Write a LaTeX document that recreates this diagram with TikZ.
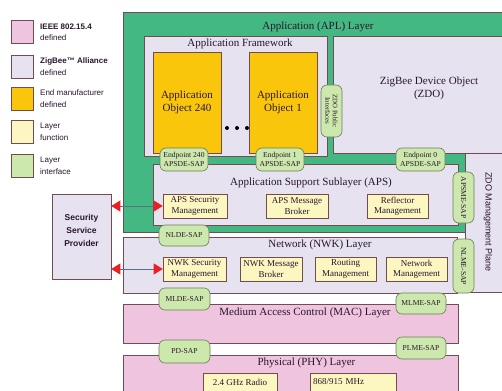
\documentclass[tikz,border=0pt]{standalone}
\usepackage{fontspec}
\setmainfont{Liberation Serif}
\newfontfamily\legendfont{Liberation Sans}
\usetikzlibrary{arrows.meta}

\definecolor{ieeepink}{RGB}{239,196,222}
\definecolor{zblav}{RGB}{230,226,240}
\definecolor{mfrorange}{RGB}{250,198,12}
\definecolor{funcyellow}{RGB}{252,247,192}
\definecolor{ifgreen}{RGB}{205,232,172}
\definecolor{aplgreen}{RGB}{68,184,130}
\definecolor{edge}{RGB}{115,75,80}
\definecolor{pilledge}{RGB}{105,125,90}
\definecolor{ink}{RGB}{40,22,45}
\definecolor{arrowred}{RGB}{235,30,35}
\definecolor{arrowline}{RGB}{90,110,140}

\begin{document}
\begin{tikzpicture}[x=1pt,y=-1pt,
  box/.style={draw=edge, line width=0.6pt, inner sep=0pt, align=center, text=ink},
  layerbox/.style={box, fill=#1},
  func/.style={box, fill=funcyellow, font=\fontsize{9}{10.3}\selectfont, minimum height=24pt},
  pill/.style={draw=pilledge, line width=0.6pt, fill=ifgreen, rounded corners=6pt, inner sep=0pt,
    align=center, text=ink, font=\fontsize{7.6}{8.6}\selectfont},
  ttl/.style={text=ink, font=\fontsize{11}{13}\selectfont, align=center, inner sep=0pt},
  swatch/.style={draw=edge, line width=0.6pt, minimum width=22pt, minimum height=23pt, inner sep=0pt},
  legtext/.style={anchor=west, align=left, inner sep=0pt, text=ink,
    font=\legendfont\fontsize{8}{11.5}\selectfont},
  biarrow/.style={draw=arrowline, line width=0.7pt,
    {Triangle[length=9pt,width=11pt,color=arrowred]}-{Triangle[length=9pt,width=11pt,color=arrowred]}}
]
\clip (0,0) rectangle (502,390);
\fill[white] (0,0) rectangle (502,390);

% legend
\node[swatch, fill=ieeepink]   (sw1) at (22,31.5) {};
\node[swatch, fill=zblav]      (sw2) at (22,66.5) {};
\node[swatch, fill=mfrorange]  (sw3) at (22,98.5) {};
\node[swatch, fill=funcyellow] (sw4) at (22,132) {};
\node[swatch, fill=ifgreen]    (sw5) at (22,166) {};
\node[legtext] (lg1) at (40,32) {\textbf{IEEE 802.15.4}\\defined};
\node[legtext] (lg2) at (40,66.5) {\textbf{ZigBee™ Alliance}\\defined};
\node[legtext] (lg3) at (40,98.5) {End manufacturer\\defined};
\node[legtext] (lg4) at (40,132) {Layer\\function};
\node[legtext] (lg5) at (40,166) {Layer\\interface};

% application layer
\node[layerbox=aplgreen, minimum width=389pt, minimum height=220pt] (apl) at (317.5,122) {};
\node[ttl] (apltitle) at (318,27) {Application (APL) Layer};

\node[layerbox=zblav, minimum width=183pt, minimum height=120pt] (frame) at (235.5,96) {};
\node[ttl] (frametitle) at (240,44) {Application Framework};
\node[layerbox=mfrorange, minimum width=68pt, minimum height=101pt,
      font=\fontsize{11}{13}\selectfont] (obj240) at (187,102.5) {Application\\Object 240};
\node[layerbox=mfrorange, minimum width=68pt, minimum height=101pt,
      font=\fontsize{11}{13}\selectfont] (obj1) at (283,102.5) {Application\\Object 1};
\foreach \dx in {227,237,247} \fill[black] (\dx,128) circle (2pt);

\node[layerbox=zblav, minimum width=179pt, minimum height=117pt] (zdo) at (422.5,94.5) {};
\node[ttl] (zdotext) at (429,88) {ZigBee Device Object\\(ZDO)};
\node[pill, rotate=-90, minimum width=52pt, minimum height=21pt,
      font=\fontsize{6.8}{7.4}\selectfont] (zdopub) at (331.5,111) {ZDO Public\\Interfaces};

\node[layerbox=zblav, minimum width=47pt, minimum height=139pt] (mgmt) at (488.5,222.5) {};
\node[rotate=-90, text=ink, inner sep=0pt, font=\legendfont\fontsize{9}{11}\selectfont]
      (mgmttext) at (488,222) {ZDO Management Plane};

% application support sublayer
\node[layerbox=zblav, minimum width=305pt, minimum height=61pt] (aps) at (305.5,194.5) {};
\node[ttl] (apstitle) at (311,183) {Application Support Sublayer (APS)};
\node[func, minimum width=64pt] (apssec) at (195,206) {APS Security\\Management};
\node[func, minimum width=62pt] (apsmsg) at (297,206) {APS Message\\Broker};
\node[func, minimum width=61pt] (refl) at (397.5,206) {Reflector\\Management};

\node[pill, minimum width=48pt, minimum height=23pt] (ep240) at (184,159.5) {Endpoint 240\\APSDE-SAP};
\node[pill, minimum width=48pt, minimum height=23pt] (ep1) at (280,159.5) {Endpoint 1\\APSDE-SAP};
\node[pill, minimum width=49pt, minimum height=23pt] (ep0) at (420.5,159.5) {Endpoint 0\\APSDE-SAP};
\node[pill, rotate=-90, minimum width=51pt, minimum height=21pt] (apsme) at (463.5,197.5) {APSME-SAP};

% network layer
\node[layerbox=zblav, minimum width=334pt, minimum height=56pt] (nwk) at (290,265) {};
\node[ttl] (nwktitle) at (320,245) {Network (NWK) Layer};
\node[func, minimum width=63pt] (nwksec) at (194.5,269) {NWK Security\\Management};
\node[func, minimum width=62pt] (nwkmsg) at (271,269) {NWK Message\\Broker};
\node[func, minimum width=61pt] (route) at (345.5,269) {Routing\\Management};
\node[func, minimum width=61pt] (netm) at (416.5,269) {Network\\Management};
\node[pill, minimum width=50pt, minimum height=21pt] (nlde) at (184,235.5) {NLDE-SAP};
\node[pill, rotate=-90, minimum width=54pt, minimum height=21pt] (nlme) at (463.5,266) {NLME-SAP};

% medium access control layer
\node[layerbox=ieeepink, minimum width=335pt, minimum height=39pt] (mac) at (290.5,323.5) {};
\node[ttl] (mactitle) at (305,313) {Medium Access Control (MAC) Layer};
\node[pill, minimum width=51pt, minimum height=22pt] (mlde) at (184.5,299) {MLDE-SAP};
\node[pill, minimum width=50pt, minimum height=21pt] (mlme) at (421,303.5) {MLME-SAP};

% physical layer
\node[layerbox=ieeepink, minimum width=335pt, minimum height=45pt] (phy) at (290.5,377.5) {};
\node[ttl] (phytitle) at (306.5,363) {Physical (PHY) Layer};
\node[pill, minimum width=51pt, minimum height=23pt] (pd) at (184.5,351.5) {PD-SAP};
\node[pill, minimum width=50pt, minimum height=22pt] (plme) at (421,348) {PLME-SAP};
\node[func, minimum width=74pt, minimum height=18pt] (radio) at (240,382) {2.4 GHz Radio};
\node[func, minimum width=86pt, minimum height=18pt, text width=80pt, align=left] (mhz) at (353,382) {868/915 MHz};

% security service provider
\node[layerbox=zblav, minimum width=59pt, minimum height=85pt] (ssp) at (81.5,236.5) {};
\node[text=ink, align=center, inner sep=0pt, font=\legendfont\bfseries\fontsize{8.5}{13}\selectfont]
      (ssptext) at (81.5,230) {Security\\Service\\Provider};

\draw[biarrow] (ssp.east |- apssec.west) -- (apssec.west);
\draw[biarrow] (ssp.east |- nwksec.west) -- (nwksec.west);
\end{tikzpicture}
\end{document}
